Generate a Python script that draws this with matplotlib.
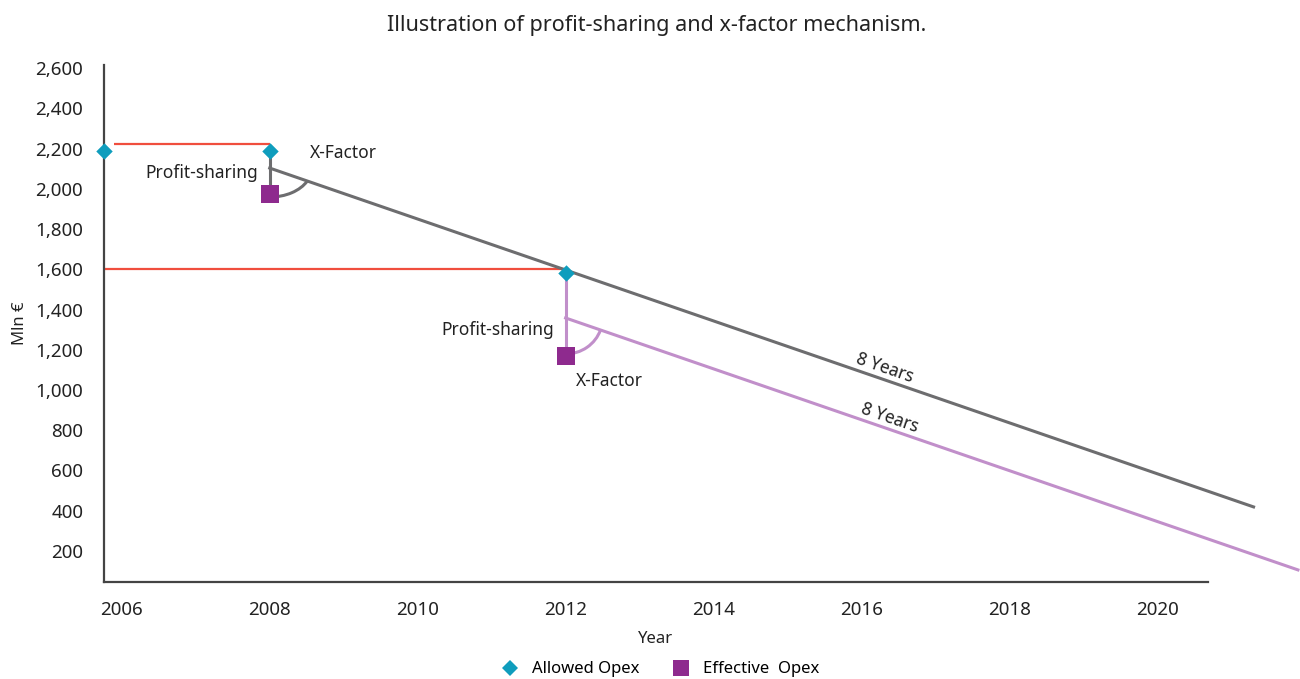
import numpy as np
import matplotlib.pyplot as plt
from matplotlib.patches import Arc
from matplotlib.lines import Line2D
from matplotlib.ticker import FuncFormatter

plt.rcParams['font.family'] = ['Noto Sans', 'DejaVu Sans']

# data
allowed_years = [2005.76, 2008, 2012]
allowed_opex = [2190, 2190, 1580]
effective_years = [2008, 2012]
effective_opex = [1975, 1170]

# red caps (start year, end year, level)
cap_start = [2005.9, 2005.76]
cap_end = [2008, 2012]
cap_level = [2225, 1600]

# x-factor paths after each profit-sharing step
grey_years = [2008, 2021.3]
grey_vals = [2103, 419]
lav_years = [2012, 2021.9]
lav_vals = [1358, 106]

xticks = [2006, 2008, 2010, 2012, 2014, 2016, 2018, 2020]
yticks = list(range(200, 2601, 200))

c_allowed = '#0f9dbd'
c_effective = '#8e2a8e'
c_red = '#f04e3e'
c_grey = '#6d6d6f'
c_lav = '#c18fca'
c_text = '#222222'

fig = plt.figure(figsize=(13, 6.79), dpi=100)
ax = fig.add_axes([0.08, 0.1429, 0.849, 0.7613])
ax.set_xlim(2005.76, 2020.68)
ax.set_ylim(46, 2615)

# red caps
for s, e, lv in zip(cap_start, cap_end, cap_level):
    ax.plot([s, e], [lv, lv], color=c_red, lw=1.6, zorder=2, solid_capstyle='butt')

# grey: vertical step + diagonal
ax.plot([allowed_years[1], effective_years[0]], [allowed_opex[1], effective_opex[0]],
        color=c_grey, lw=2.2, zorder=2)
ax.plot(grey_years, grey_vals, color=c_grey, lw=2.2, zorder=2, clip_on=False)

# lavender: vertical step + diagonal
ax.plot([allowed_years[2], effective_years[1]], [allowed_opex[2], effective_opex[1]],
        color=c_lav, lw=2.2, zorder=2)
ax.plot(lav_years, lav_vals, color=c_lav, lw=2.2, zorder=2, clip_on=False)

# angle arcs (sizes in pixels converted to data units)
px_x = ax.bbox.width / (ax.get_xlim()[1] - ax.get_xlim()[0])
px_y = ax.bbox.height / (ax.get_ylim()[1] - ax.get_ylim()[0])

def angle_arc(xs, ys, rx, ry, color):
    th = np.degrees(np.arctan2(ys[1] - ys[0], xs[1] - xs[0]))
    ax.add_patch(Arc((xs[0], ys[0]), 2 * rx / px_x, 2 * ry / px_y,
                     theta1=-90, theta2=th, color=color, lw=2.2, zorder=2))

angle_arc(grey_years, grey_vals, 42, 29, c_grey)
angle_arc(lav_years, lav_vals, 37, 36, c_lav)

# markers
ax.scatter(allowed_years, allowed_opex, marker='D', s=70, color=c_allowed, zorder=4,
           clip_on=False, linewidths=0)
ax.scatter(effective_years, effective_opex, marker='s', s=150, color=c_effective, zorder=3,
           linewidths=0)

# annotations
fs = 12.5
ax.text(2007.84, 2078, 'Profit-sharing', ha='right', va='center', fontsize=fs, color=c_text)
ax.text(2008.54, 2178, 'X-Factor', ha='left', va='center', fontsize=fs, color=c_text)
ax.text(2011.84, 1298, 'Profit-sharing', ha='right', va='center', fontsize=fs, color=c_text)
ax.text(2012.14, 1045, 'X-Factor', ha='left', va='center', fontsize=fs, color=c_text)
ax.text(2016.32, 1110, '8 Years', ha='center', va='center', fontsize=fs, color=c_text,
        rotation=-19)
ax.text(2016.38, 861, '8 Years', ha='center', va='center', fontsize=fs, color=c_text,
        rotation=-19)

# axes styling
for side in ['top', 'right']:
    ax.spines[side].set_visible(False)
for side in ['left', 'bottom']:
    ax.spines[side].set_color('#444444')
    ax.spines[side].set_linewidth(1.6)
ax.set_xticks(xticks)
ax.set_yticks(yticks)
ax.yaxis.set_major_formatter(FuncFormatter(lambda v, p: f'{int(v):,}'))
ax.tick_params(axis='both', length=0, labelsize=13.5, colors=c_text)
ax.tick_params(axis='x', pad=14)
ax.tick_params(axis='y', pad=15)
ax.set_xlabel('Year', fontsize=12, color=c_text, labelpad=8)
ax.set_ylabel('Mln €', fontsize=12, color=c_text, labelpad=5)

fig.suptitle('Illustration of profit-sharing and x-factor mechanism.', x=0.505, y=0.978,
             fontsize=15.5, color=c_text)

handles = [
    Line2D([], [], marker='D', linestyle='none', color=c_allowed, markersize=8,
           markeredgewidth=0, label='Allowed Opex'),
    Line2D([], [], marker='s', linestyle='none', color=c_effective, markersize=12,
           markeredgewidth=0, label='Effective  Opex'),
]
fig.legend(handles=handles, loc='center', bbox_to_anchor=(0.505, 0.014), ncol=2,
           frameon=False, fontsize=12, handletextpad=0.3, columnspacing=1.5)

fig.savefig('out.png', dpi=100)
